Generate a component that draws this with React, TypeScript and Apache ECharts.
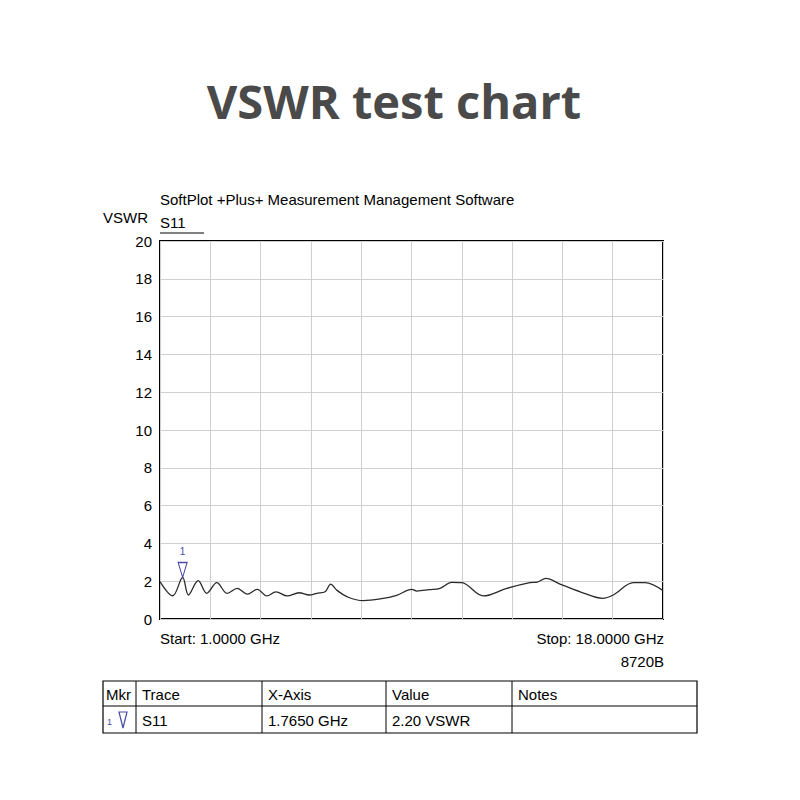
import React, { useEffect, useRef } from "react";
import * as echarts from "echarts";

const titleText = "VSWR test chart";
const softwareText = "SoftPlot +Plus+ Measurement Management Software";
const yAxisName = "VSWR";
const traceName = "S11";
const startLabel = "Start: 1.0000 GHz";
const stopLabel = "Stop: 18.0000 GHz";
const instrument = "8720B";

const freqGHz = [
  1.0, 1.43, 1.765, 1.96, 2.29, 2.58, 2.92, 3.27, 3.61, 3.95, 4.29, 4.61, 4.92, 5.3,
  5.7, 6.05, 6.3, 6.58, 6.77, 6.97, 7.36, 7.87, 8.44, 9.0, 9.51, 9.68, 10.1, 10.46,
  10.86, 11.2, 11.93, 12.72, 13.5, 13.75, 14.04, 14.52, 15.2, 15.96, 16.32, 17.0,
  17.39, 18.0,
];
const vswr = [
  1.98, 1.23, 2.2, 1.27, 2.03, 1.36, 1.92, 1.36, 1.62, 1.32, 1.57, 1.22, 1.44, 1.22,
  1.39, 1.27, 1.36, 1.44, 1.85, 1.53, 1.15, 0.97, 1.06, 1.25, 1.57, 1.48, 1.55, 1.62,
  1.94, 1.92, 1.22, 1.62, 1.92, 1.95, 2.15, 1.85, 1.44, 1.09, 1.27, 1.92, 1.92, 1.5,
];
const yTicks = { min: 0, max: 20, step: 2 };
const markerFreq = 1.765;
const markerValue = 2.2;
const tableHeaders = ["Mkr", "Trace", "X-Axis", "Value", "Notes"];
const tableRow = ["1", "S11", "1.7650 GHz", "2.20 VSWR", ""];

const FONT = '"Liberation Sans", Arial, sans-serif';
const MARK_BLUE = "#4a4aa8";

export default function App() {
  const ref = useRef<HTMLDivElement>(null);
  useEffect(() => {
    if (!ref.current) return;
    const chart = echarts.init(ref.current, undefined, { renderer: "svg" });

    const colX = [103, 136, 262, 386, 512, 697];
    const rowY = [681, 706, 733];
    const tableGraphics: any[] = [];
    tableGraphics.push({
      type: "rect",
      shape: { x: colX[0], y: rowY[0], width: colX[5] - colX[0], height: rowY[2] - rowY[0] },
      style: { fill: "none", stroke: "#000", lineWidth: 1.2 },
    });
    tableGraphics.push({
      type: "line",
      shape: { x1: colX[0], y1: rowY[1], x2: colX[5], y2: rowY[1] },
      style: { stroke: "#000", lineWidth: 1.2 },
    });
    for (let i = 1; i < 5; i++) {
      tableGraphics.push({
        type: "line",
        shape: { x1: colX[i], y1: rowY[0], x2: colX[i], y2: rowY[2] },
        style: { stroke: "#000", lineWidth: 1 },
      });
    }
    tableHeaders.forEach((h, i) => {
      tableGraphics.push({
        type: "text",
        x: colX[i] + (i === 0 ? 3 : 6),
        y: (rowY[0] + rowY[1]) / 2 + 1,
        style: { text: h, fill: "#000", font: `15px ${FONT}`, textVerticalAlign: "middle" },
      });
    });
    tableRow.forEach((c, i) => {
      if (i === 0) {
        tableGraphics.push({
          type: "text",
          x: 107,
          y: 722,
          style: { text: c, fill: MARK_BLUE, font: `9px ${FONT}`, textVerticalAlign: "middle" },
        });
        tableGraphics.push({
          type: "polygon",
          shape: { points: [[119, 712], [127, 712], [123, 728]] },
          style: { fill: "none", stroke: MARK_BLUE, lineWidth: 1.2 },
        });
        return;
      }
      tableGraphics.push({
        type: "text",
        x: colX[i] + 6,
        y: (rowY[1] + rowY[2]) / 2 + 1,
        style: { text: c, fill: "#000", font: `15px ${FONT}`, textVerticalAlign: "middle" },
      });
    });

    chart.setOption({
      animation: false,
      backgroundColor: "#fff",
      grid: {
        left: 160,
        top: 241,
        right: 137,
        bottom: 181,
        show: true,
        borderColor: "#000",
        borderWidth: 2,
        backgroundColor: "transparent",
      },
      xAxis: [
        {
          type: "value",
          min: 0,
          max: 10,
          interval: 1,
          axisLine: { show: false },
          axisTick: { show: false },
          axisLabel: { show: false },
          splitLine: { show: true, lineStyle: { color: "#cfcfcf", width: 1 } },
        },
        {
          type: "value",
          min: freqGHz[0],
          max: freqGHz[freqGHz.length - 1],
          show: false,
          splitLine: { show: false },
        },
      ],
      yAxis: {
        type: "value",
        min: yTicks.min,
        max: yTicks.max,
        interval: yTicks.step,
        axisLine: { show: false },
        axisTick: { show: false },
        axisLabel: { color: "#000", fontSize: 15, fontFamily: FONT, margin: 8 },
        splitLine: { show: true, lineStyle: { color: "#cfcfcf", width: 1 } },
      },
      series: [
        {
          type: "line",
          xAxisIndex: 1,
          data: freqGHz.map((f, i) => [f, vswr[i]]),
          showSymbol: false,
          smooth: 0.35,
          lineStyle: { color: "#2a2a2a", width: 1.3 },
          itemStyle: { color: "#2a2a2a" },
          markPoint: {
            symbol: "triangle",
            symbolRotate: 180,
            symbolSize: [9, 15],
            symbolOffset: [0, "-50%"],
            itemStyle: { color: "rgba(255,255,255,0)", borderColor: MARK_BLUE, borderWidth: 1.2 },
            label: {
              show: true,
              position: "top",
              distance: 5,
              formatter: "1",
              color: MARK_BLUE,
              fontSize: 10,
              fontFamily: FONT,
            },
            data: [{ coord: [markerFreq, markerValue] }],
          },
        },
      ],
      graphic: [
        {
          type: "text",
          x: 394,
          y: 101,
          style: {
            text: titleText,
            fill: "#4a4a4a",
            font: 'bold 47px "Open Sans", "Noto Sans", sans-serif',
            textAlign: "center",
            textVerticalAlign: "middle",
          },
        },
        {
          type: "text",
          x: 160,
          y: 199,
          style: { text: softwareText, fill: "#000", font: `15px ${FONT}`, textVerticalAlign: "middle" },
        },
        {
          type: "text",
          x: 103,
          y: 217,
          style: { text: yAxisName, fill: "#000", font: `15px ${FONT}`, textVerticalAlign: "middle" },
        },
        {
          type: "text",
          x: 160,
          y: 222,
          style: { text: traceName, fill: "#000", font: `15px ${FONT}`, textVerticalAlign: "middle" },
        },
        {
          type: "line",
          shape: { x1: 160, y1: 233, x2: 204, y2: 233 },
          style: { stroke: "#000", lineWidth: 1 },
        },
        {
          type: "text",
          x: 160,
          y: 638,
          style: { text: startLabel, fill: "#000", font: `15px ${FONT}`, textVerticalAlign: "middle" },
        },
        {
          type: "text",
          x: 664,
          y: 638,
          style: {
            text: stopLabel,
            fill: "#000",
            font: `15px ${FONT}`,
            textAlign: "right",
            textVerticalAlign: "middle",
          },
        },
        {
          type: "text",
          x: 664,
          y: 661,
          style: {
            text: instrument,
            fill: "#000",
            font: `15px ${FONT}`,
            textAlign: "right",
            textVerticalAlign: "middle",
          },
        },
        ...tableGraphics,
      ],
    });
    return () => chart.dispose();
  }, []);
  return (
    <div
      ref={ref}
      style={{ position: "absolute", left: 0, top: 0, width: 800, height: 800, background: "#fff" }}
    />
  );
}
